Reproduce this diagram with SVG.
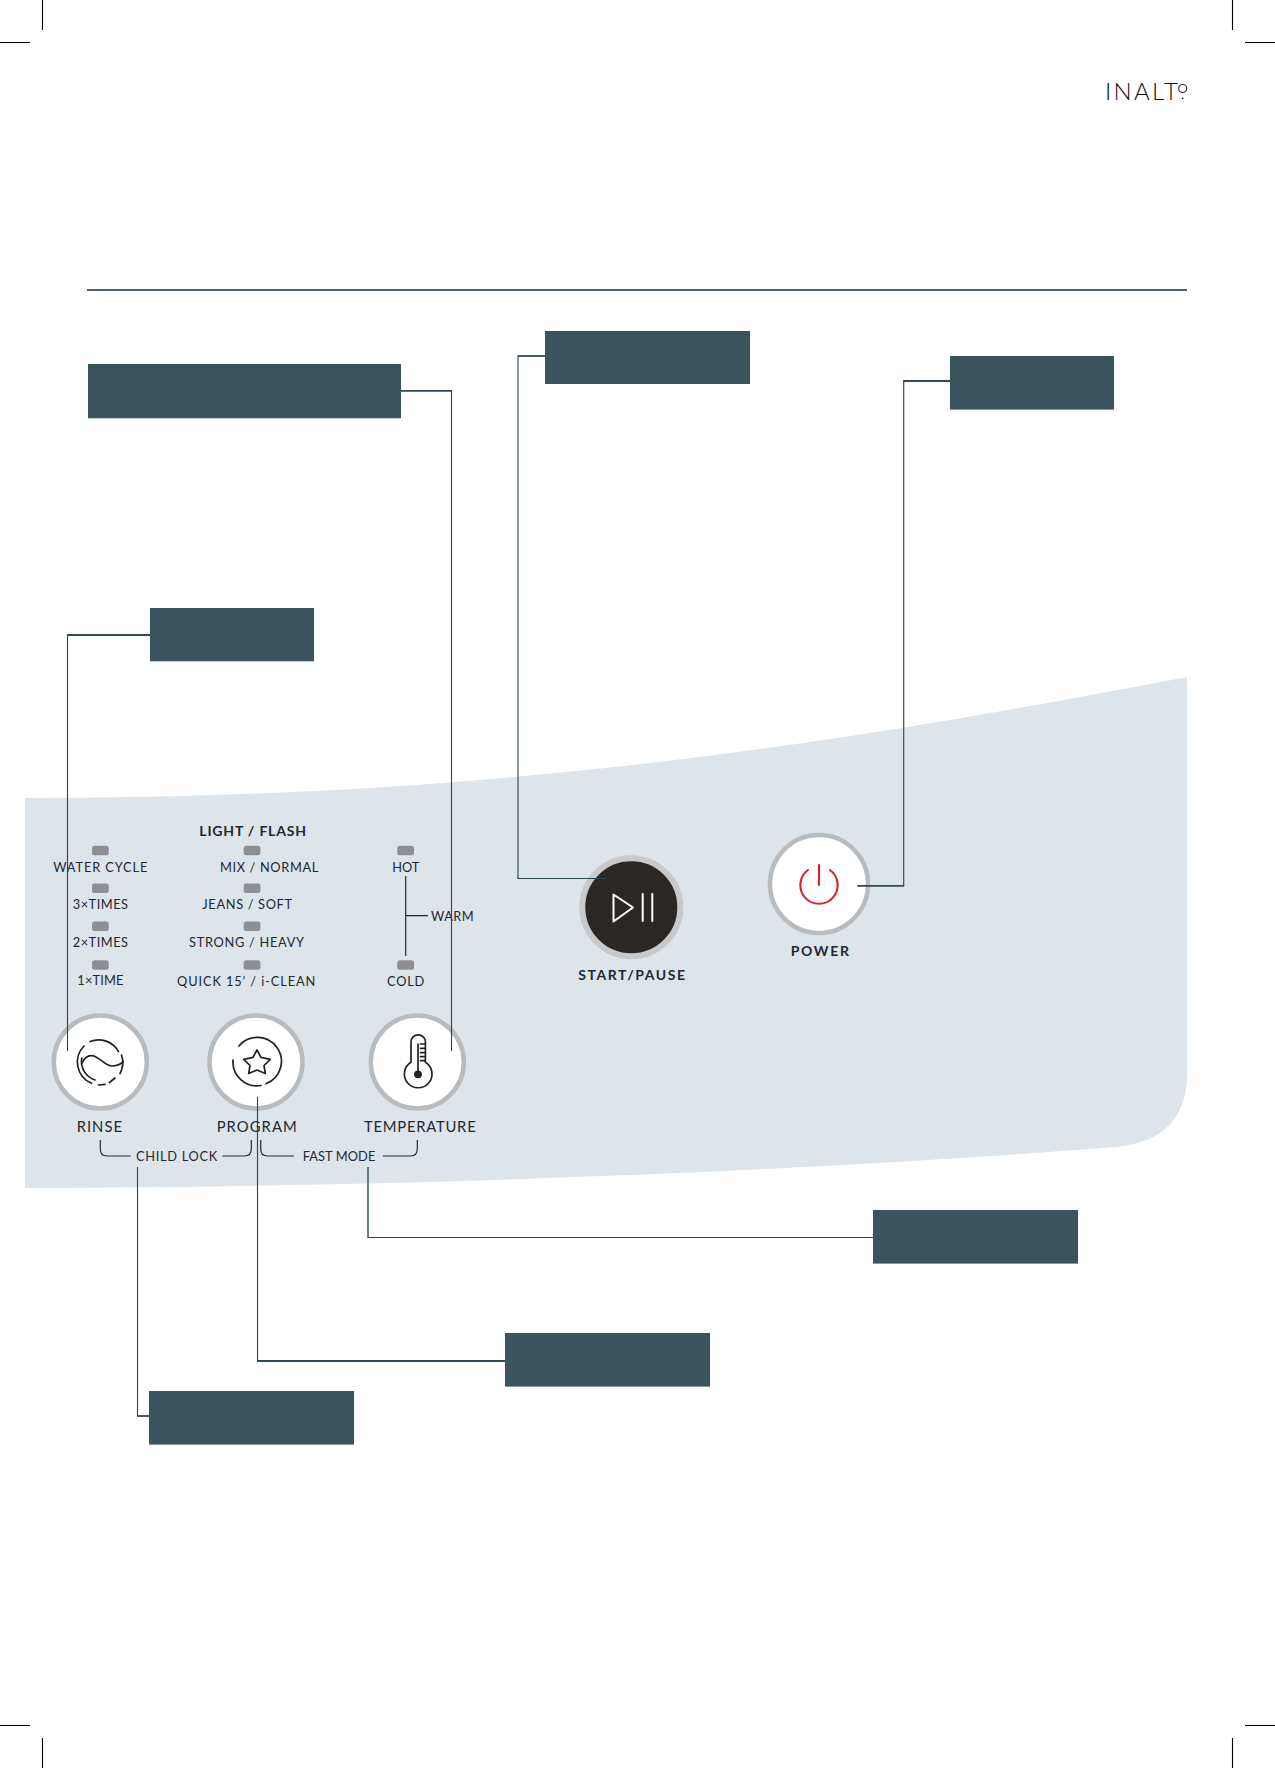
<svg xmlns="http://www.w3.org/2000/svg" width="1275" height="1768" viewBox="0 0 1275 1768">
<style>
text{font-family:Lato,"Liberation Sans",sans-serif;fill:#23282e}
.s{font-size:12.8px}
.m{font-size:14.8px}
.b{font-size:14px;font-weight:700}
.c{fill:none;stroke:#2a454d;stroke-width:1.1}
.t{fill:none;stroke:#2f4a52;stroke-width:1.8}
.k{fill:none;stroke:#000;stroke-width:1.1}
.i{fill:none;stroke:#1f2226;stroke-width:1.7;stroke-linecap:round}
.br{fill:none;stroke:#23282e;stroke-width:1.2}
.ring{fill:#fff;stroke:#b9bcbe;stroke-width:4.5}
.led{fill:#8e8f92}
.box{fill:#3b545b}
</style>
<g id="crop-marks">
<path class="k" d="M42.5 0V30M0 42.5H30M1232.5 0V30M1245 42.5H1275M42.5 1768V1738M0 1725.5H30M1232.5 1768V1738M1245 1725.5H1275"/>
</g>
<g id="logo">
<text x="1105" y="99.5" font-size="24" style="font-weight:300;fill:#111" textLength="73" lengthAdjust="spacing">INALT</text>
<circle cx="1182.7" cy="88.5" r="4" fill="none" stroke="#222" stroke-width="1.1"/>
<circle cx="1182.7" cy="98.3" r="0.9" fill="#222"/>
</g>
<rect id="header-rule" x="87" y="289.2" width="1100" height="1.6" fill="#24404a"/>
<path id="panel" fill="#dde4ea" d="M25 798C500 798 830 745 1187 677V1075C1187 1115 1165 1143 1115 1147C800 1172 400 1187 25 1188Z"/>

<g id="callout-temperature"><rect class="box" x="88" y="364" width="313" height="54.3"/></g>
<g id="callout-start"><rect class="box" x="545" y="331" width="205" height="53"/></g>
<g id="callout-power"><rect class="box" x="950" y="356" width="164" height="53.6"/></g>
<g id="callout-rinse"><rect class="box" x="150" y="608" width="164" height="53.3"/></g>
<g id="callout-fast"><rect class="box" x="873" y="1210" width="205" height="53.6"/></g>
<g id="callout-program"><rect class="box" x="505" y="1333" width="205" height="53.6"/></g>
<g id="callout-child"><rect class="box" x="149" y="1391" width="205" height="53.6"/></g>

<g id="rinse-leds">
<rect class="led" x="92" y="845.7" width="16.7" height="9.5" rx="2.5"/>
<rect class="led" x="92" y="883.6" width="16.7" height="9.5" rx="2.5"/>
<rect class="led" x="92" y="921.6" width="16.7" height="9.5" rx="2.5"/>
<rect class="led" x="92" y="960.2" width="16.7" height="9.5" rx="2.5"/>
<text class="s" x="53.3" y="871.7" textLength="94" lengthAdjust="spacing">WATER CYCLE</text>
<text class="s" x="72.7" y="909.3" textLength="55.3" lengthAdjust="spacing">3×TIMES</text>
<text class="s" x="72.7" y="947.3" textLength="55.3" lengthAdjust="spacing">2×TIMES</text>
<text class="s" x="77.3" y="985.3" textLength="46" lengthAdjust="spacing">1×TIME</text>
</g>
<g id="program-leds">
<text class="b" x="199.3" y="836" textLength="106.7" lengthAdjust="spacing">LIGHT / FLASH</text>
<rect class="led" x="243.7" y="845.7" width="16.7" height="9.5" rx="2.5"/>
<rect class="led" x="243.7" y="883.6" width="16.7" height="9.5" rx="2.5"/>
<rect class="led" x="243.7" y="921.6" width="16.7" height="9.5" rx="2.5"/>
<rect class="led" x="243.7" y="960.2" width="16.7" height="9.5" rx="2.5"/>
<text class="s" x="220" y="871.7" textLength="98.3" lengthAdjust="spacing">MIX / NORMAL</text>
<text class="s" x="202.3" y="909.3" textLength="89.7" lengthAdjust="spacing">JEANS / SOFT</text>
<text class="s" x="189" y="947.3" textLength="115" lengthAdjust="spacing">STRONG / HEAVY</text>
<text class="s" x="177" y="985.6" textLength="138.3" lengthAdjust="spacing">QUICK 15’ / i-CLEAN</text>
</g>
<g id="temperature-leds">
<rect class="led" x="397.3" y="845.7" width="16.7" height="9.5" rx="2.5"/>
<rect class="led" x="397.3" y="960.2" width="16.7" height="9.5" rx="2.5"/>
<text class="s" x="392.3" y="871.7" textLength="27" lengthAdjust="spacing">HOT</text>
<text class="s" x="387" y="985.6" textLength="37.3" lengthAdjust="spacing">COLD</text>
<text class="s" x="431" y="921.3" textLength="42.7" lengthAdjust="spacing">WARM</text>
<path class="br" d="M405.7 876V956M405.7 915.7H428"/>
</g>

<g id="rinse-button">
<circle class="ring" cx="100.3" cy="1062" r="46.5"/>
<g class="i">
<path d="M90 1041.5A23 23 0 0 1 118.5 1051.5"/>
<path d="M121.5 1055A23 23 0 0 1 120 1073.5"/>
<path d="M115 1078L109.5 1082.5"/>
<path d="M105 1084.4L98.5 1085"/>
<path d="M84 1046A23 23 0 0 0 91.5 1083.3"/>
<path d="M81.8 1058C80 1068 86 1077 95 1080"/>
<path d="M81.8 1063.3C85 1057 90 1054 96 1057C102 1060 106 1066 112 1066C117 1066 121 1064 123.3 1061.7"/>
</g>
</g>
<g id="program-button">
<circle class="ring" cx="256" cy="1062" r="46.5"/>
<g class="i">
<path d="M239 1046A24 24 0 1 1 266 1083.8"/>
<path d="M261 1085.5A24 24 0 0 1 233 1060"/>
<path stroke-linejoin="round" d="M257 1050L261 1057.3L270.3 1059.3L264 1065.5L265.3 1073.5L257 1070L248.7 1073.5L250 1065.5L243.7 1059.3L253 1057.3Z"/>
</g>
</g>
<g id="temperature-button">
<circle class="ring" cx="417.3" cy="1062" r="46.5"/>
<g class="i">
<path d="M411 1062.2V1042A7.2 7.2 0 0 1 425.4 1042V1062.2A13.8 13.8 0 1 1 411 1062.2Z"/>
<path d="M418 1074V1044M420.5 1044H424.5M420.5 1048.3H424.5M420.5 1052.7H424.5M420.5 1056.7H424.5M420.5 1060.7H424.5"/>
</g>
<circle cx="418" cy="1074.3" r="3.9" fill="#1f2226"/>
</g>
<g id="button-labels">
<text class="m" x="76.7" y="1132.3" textLength="45.3" lengthAdjust="spacing">RINSE</text>
<text class="m" x="216.7" y="1132.3" textLength="80" lengthAdjust="spacing">PROGRAM</text>
<text class="m" x="364" y="1132.3" textLength="111.7" lengthAdjust="spacing">TEMPERATURE</text>
<text class="s" x="136" y="1160.7" textLength="81.3" lengthAdjust="spacing">CHILD LOCK</text>
<text class="s" x="302.7" y="1160.7" textLength="72.6" lengthAdjust="spacing">FAST MODE</text>
<path class="br" d="M100.3 1140V1149Q100.3 1156 107 1156H130.7M222.3 1156H244.5Q251.3 1156 251.3 1149V1140M260.7 1140V1149Q260.7 1156 267.5 1156H294M382.7 1156H410.5Q417.3 1156 417.3 1149V1140"/>
</g>

<g id="start-pause">
<circle cx="631.3" cy="907.3" r="49" fill="#2b2724" stroke="#c8c9ca" stroke-width="6"/>
<path d="M613.5 894.5V921.5L633 907.5ZM642.7 894V921M652.3 894V921" fill="none" stroke="#fff" stroke-width="2" stroke-linejoin="round" stroke-linecap="round"/>
<text class="b" x="578.3" y="980.3" textLength="106.7" lengthAdjust="spacing">START/PAUSE</text>
</g>
<g id="power">
<circle class="ring" cx="819" cy="884" r="49"/>
<path d="M808 870A18.7 18.7 0 1 0 830 870M819 865V885" fill="none" stroke="#d9222a" stroke-width="2.1" stroke-linecap="round"/>
<text class="b" x="790.7" y="955.6" textLength="58.3" lengthAdjust="spacing">POWER</text>
</g>

<g id="connectors">
<path class="c" d="M67.5 636V1051"/>
<path class="t" d="M150 635H66.9"/>
<path class="c" d="M451.5 391V1051"/>
<path class="t" d="M401 390.8H452"/>
<path class="c" d="M257.5 1096.7V1361"/>
<path class="t" d="M257 1361H505"/>
<path class="c" d="M137.5 1167V1416"/>
<path class="t" d="M137 1416H149"/>
<path class="t" d="M368 1167V1237.5" style="stroke-width:1.4"/>
<path class="c" d="M367.5 1237.5H873"/>
<path class="c" d="M518 357V878.5"/>
<path class="t" d="M545 356H517.4"/>
<path class="c" d="M517.5 878.5H608"/>
<path class="c" d="M903.7 381V885.7"/>
<path class="t" d="M950 381H903.2M904.2 885.8H857.3"/>
</g>
</svg>
